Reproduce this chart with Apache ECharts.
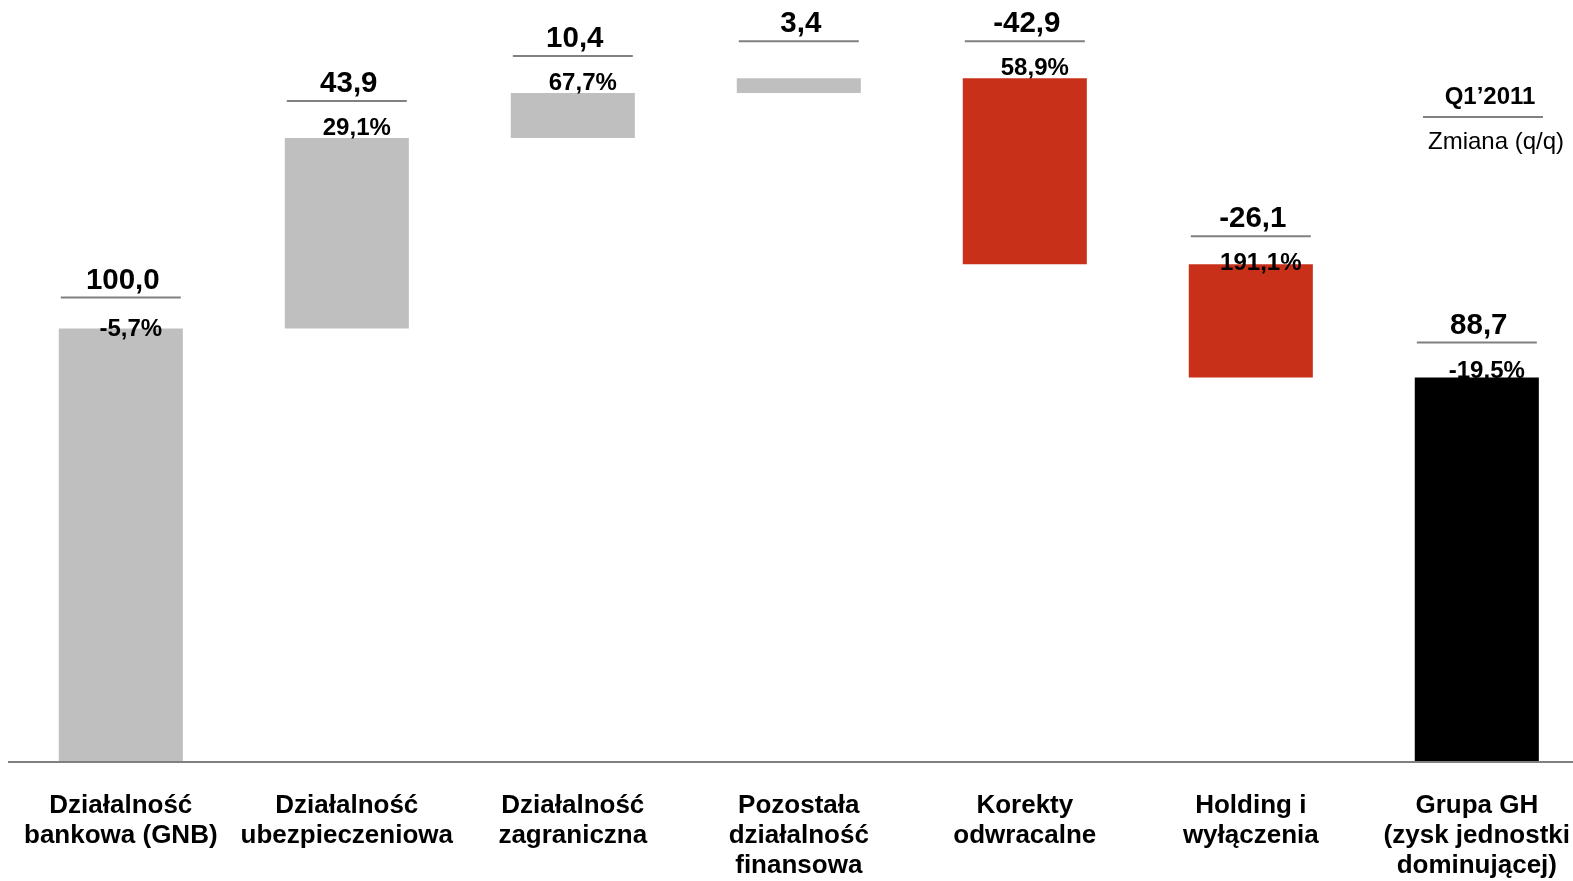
<!DOCTYPE html>
<html>
<head>
<meta charset="utf-8">
<script src="https://cdn.jsdelivr.net/npm/echarts@6/dist/echarts.min.js"></script>
<style>
  html, body { margin: 0; padding: 0; background: #ffffff; }
  #chart { width: 1573px; height: 881px; }
</style>
</head>
<body>
<div id="chart"></div>
<script>
// Segment names along the bridge
const categories = [
  'Działalność\nbankowa (GNB)',
  'Działalność\nubezpieczeniowa',
  'Działalność\nzagraniczna',
  'Pozostała\ndziałalność\nfinansowa',
  'Korekty\nodwracalne',
  'Holding i\nwyłączenia',
  'Grupa GH\n(zysk jednostki\ndominującej)'
];
// Contribution of each segment (mln zł)
const values = [100.0, 43.9, 10.4, 3.4, -42.9, -26.1, 88.7];
// Quarter-on-quarter change (%), null where not shown
const changes = [-5.7, 29.1, 67.7, null, 58.9, 191.1, -19.5];
// Bar role: first column, intermediate step, or final total
const roles = ['start', 'step', 'step', 'step', 'step', 'step', 'total'];

// Per-column label nudges (px, downward) for the value header and the % caption
const headNudge = [6, 0, 0, 0, 0, 9, 2];
const pctNudge = [11, 0, 0, 0, 0, 9, 4];

const COLORS = { up: '#BFBFBF', down: '#C8301A', total: '#000000' };
const FONT = 'Liberation Sans, Arial, sans-serif';

// Build floating bars: invisible base + visible segment
let running = 0;
const bases = [], heights = [], tops = [], colors = [];
values.forEach((v, i) => {
  if (roles[i] === 'start') {
    bases.push(0); heights.push(v); running = v; colors.push(COLORS.up);
  } else if (roles[i] === 'total') {
    bases.push(0); heights.push(v); colors.push(COLORS.total);
  } else if (v >= 0) {
    bases.push(running); heights.push(v); running += v; colors.push(COLORS.up);
  } else {
    running += v; bases.push(running); heights.push(-v); colors.push(COLORS.down);
  }
  tops.push(bases[i] + heights[i]);
});

const fmt = (n) => n.toFixed(1).replace('.', ',');

const chart = echarts.init(document.getElementById('chart'), null, { renderer: 'canvas' });

chart.setOption({
  animation: false,
  backgroundColor: '#ffffff',
  // columns are placed on the ticks, first at the left grid edge, last at the right
  grid: { left: 120.8, right: 95.3, top: 3.25, bottom: 116.5, containLabel: false },
  xAxis: {
    type: 'category',
    data: categories,
    boundaryGap: false,
    axisLine: { show: false },
    axisTick: { show: false },
    axisLabel: {
      interval: 0,
      margin: 29,
      color: '#000000',
      fontFamily: FONT,
      fontWeight: 'bold',
      fontSize: 26,
      lineHeight: 30
    }
  },
  yAxis: { type: 'value', min: 0, max: 175, show: false, splitLine: { show: false } },
  series: [
    {
      type: 'bar',
      stack: 'bridge',
      silent: true,
      itemStyle: { color: 'transparent' },
      data: bases
    },
    {
      type: 'bar',
      stack: 'bridge',
      barWidth: '54.9%',
      data: heights.map((h, i) => ({ value: h, itemStyle: { color: colors[i] } }))
    },
    {
      type: 'custom',
      z: 10,
      data: tops.map((t, i) => [i, t]),
      renderItem: function (params, api) {
        const i = api.value(0);
        const p = api.coord([i, api.value(1)]);
        const hy = p[1] + headNudge[i];
        const children = [
          {
            type: 'text',
            style: {
              x: p[0] + 2, y: hy - 54,
              text: fmt(values[i]),
              textAlign: 'center', textVerticalAlign: 'middle',
              fill: '#000000', font: 'bold 29.5px ' + FONT
            }
          },
          {
            type: 'line',
            shape: { x1: p[0] - 60, y1: hy - 37, x2: p[0] + 60, y2: hy - 37 },
            style: { stroke: '#808080', lineWidth: 2 }
          }
        ];
        if (changes[i] !== null) {
          children.push({
            type: 'text',
            style: {
              x: p[0] + 10, y: p[1] + pctNudge[i] - 10,
              text: fmt(changes[i]) + '%',
              textAlign: 'center', textVerticalAlign: 'middle',
              fill: '#000000', font: 'bold 24px ' + FONT
            }
          });
        }
        return { type: 'group', children: children };
      }
    }
  ],
  graphic: [
    {
      id: 'periodTitle', type: 'text', x: 1490, y: 97,
      style: { text: 'Q1\u20192011', textAlign: 'center', textVerticalAlign: 'middle',
               fill: '#000000', font: 'bold 24px ' + FONT }
    },
    {
      id: 'periodRule', type: 'line',
      shape: { x1: 1423, y1: 117, x2: 1543, y2: 117 },
      style: { stroke: '#808080', lineWidth: 2 }
    },
    {
      id: 'changeCaption', type: 'text', x: 1496, y: 142,
      style: { text: 'Zmiana (q/q)', textAlign: 'center', textVerticalAlign: 'middle',
               fill: '#000000', font: '24px ' + FONT }
    }
  ]
});

// Baseline across the full width, at the y = 0 level of the value axis
const baseY = chart.convertToPixel({ yAxisIndex: 0 }, 0);
chart.setOption({
  graphic: [
    {
      id: 'baseline', type: 'line', z: 5,
      shape: { x1: 8, y1: baseY, x2: 1573, y2: baseY },
      style: { stroke: '#808080', lineWidth: 2 }
    }
  ]
});
</script>
</body>
</html>
